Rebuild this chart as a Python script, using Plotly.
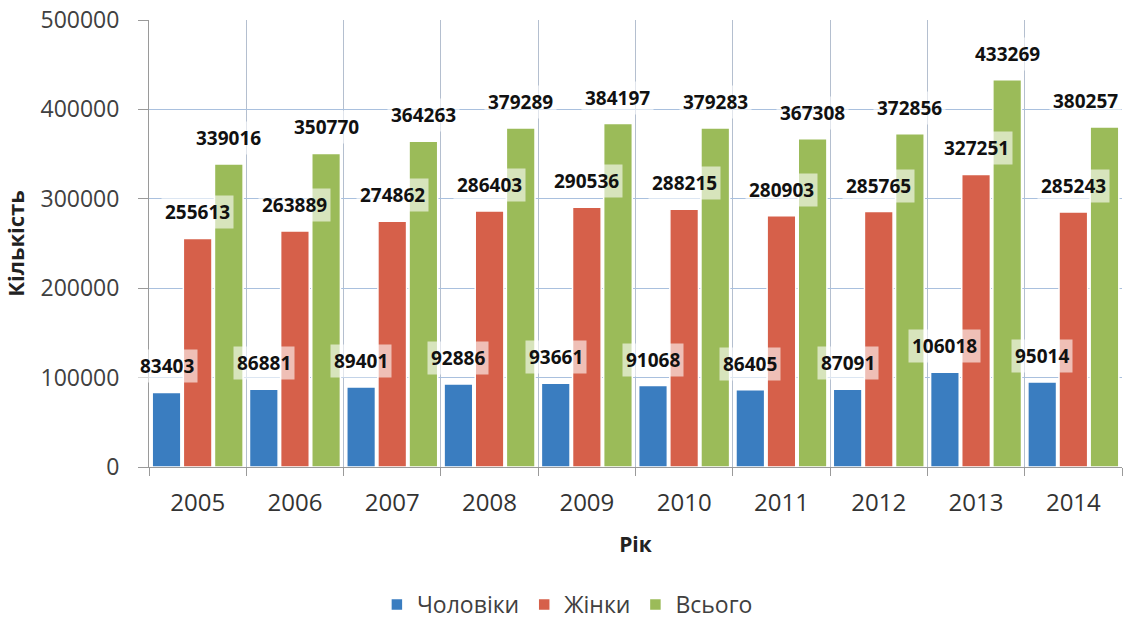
import plotly.graph_objects as go

years = ["2005", "2006", "2007", "2008", "2009", "2010", "2011", "2012", "2013", "2014"]
men = [83403, 86881, 89401, 92886, 93661, 91068, 86405, 87091, 106018, 95014]
women = [255613, 263889, 274862, 286403, 290536, 288215, 280903, 285765, 327251, 285243]
total = [339016, 350770, 364263, 379289, 384197, 379283, 367308, 372856, 433269, 380257]
series_names = ["Чоловіки", "Жінки", "Всього"]
colors = ["#3A7DC0", "#D6604A", "#9BBB59"]

W, H = 1142, 626
ml, mr, mt, mb = 149, 20, 20, 159
bargap = 0.04

fig = go.Figure()
for name, vals, col in zip(series_names, [men, women, total], colors):
    fig.add_trace(go.Bar(x=years, y=vals, name=name,
                         marker=dict(color=col, line=dict(color="white", width=1.5))))

plot_w = W - ml - mr
cat_w = plot_w / len(years)
slot = cat_w * (1 - bargap) / 3
label_half = 37
for i, vals in enumerate([men, women, total]):
    for idx, v in enumerate(vals):
        shift = (i - 1) * slot
        centre = (idx + 0.5) * cat_w + shift
        if centre + label_half > plot_w:
            shift -= centre + label_half - plot_w
        fig.add_annotation(x=idx, y=v, text=f"<b>{v}</b>", showarrow=False,
                           xshift=shift, yshift=26, yanchor="middle",
                           bgcolor="rgba(255,255,255,0.6)", borderpad=3,
                           font=dict(family="Open Sans", size=19, color="#111111"))

fig.update_layout(
    width=W, height=H,
    margin=dict(l=ml, r=mr, t=mt, b=mb),
    barmode="group", bargap=bargap, bargroupgap=0.08,
    plot_bgcolor="white", paper_bgcolor="white",
    font=dict(family="Open Sans", size=22, color="#404040"),
    legend=dict(orientation="h", x=0.43, xanchor="center",
                yref="container", y=0.0, yanchor="bottom",
                font=dict(size=23, color="#404040"), itemwidth=30),
    xaxis=dict(
        type="category", automargin=False, tickangle=0, range=[-0.5, len(years) - 0.5],
        title=dict(text="<b>Рік</b>", font=dict(size=21, color="#222222"), standoff=20),
        showline=True, linecolor="#9A9A9A", linewidth=1,
        showgrid=True, gridcolor="#B4BFCF", tickson="boundaries",
        ticks="outside", ticklen=8, tickcolor="#9A9A9A",
        ticklabelstandoff=14,
        tickfont=dict(size=24, color="#333333"),
    ),
    yaxis=dict(
        automargin=False,
        title=dict(text="<b>Кількість</b>", font=dict(size=22, color="#222222"), standoff=15),
        range=[0, 500000], dtick=100000, tickformat="d",
        showline=True, linecolor="#9A9A9A", linewidth=1,
        showgrid=True, gridcolor="#A9C0DE",
        ticks="outside", ticklen=10, tickcolor="#9A9A9A",
        ticklabelstandoff=14, ticklabeloverflow="allow",
        tickfont=dict(size=23, color="#404040"),
        zeroline=False,
    ),
)

fig.write_html("out.html", config={"displayModeBar": False},
               post_script="document.body.style.margin='0';")
